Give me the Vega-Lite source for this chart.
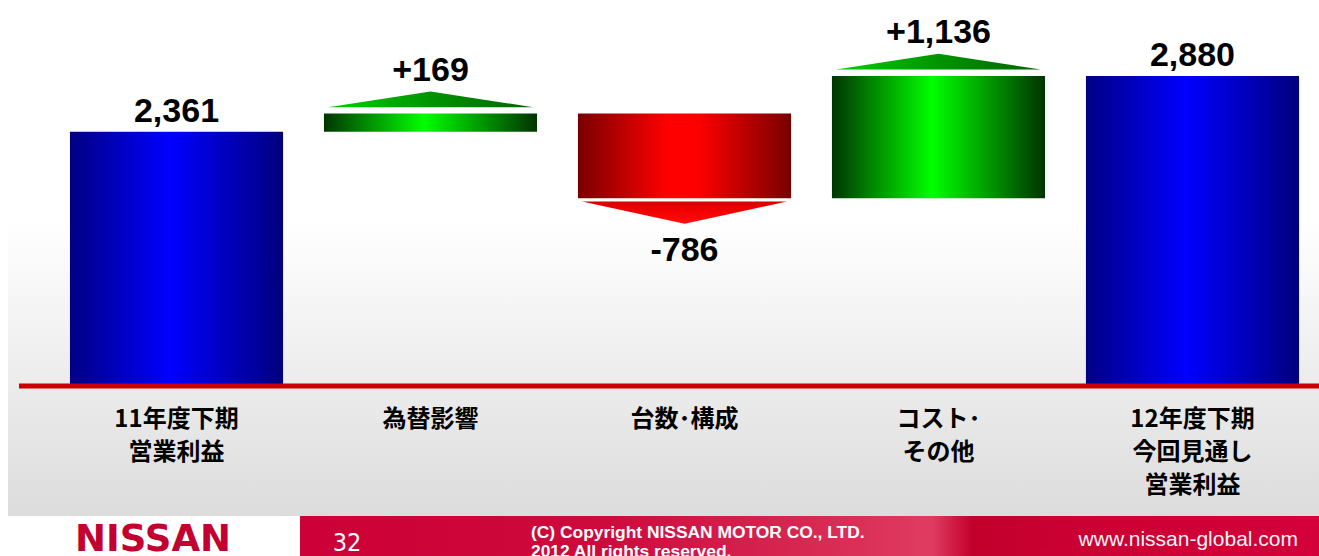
{
  "$schema": "https://vega.github.io/schema/vega-lite/v6.json",
  "width": 1319,
  "height": 556,
  "padding": 0,
  "autosize": {"type": "none"},
  "background": "#ffffff",
  "config": {"view": {"stroke": null}, "axis": {"disable": true}},
  "data": {
    "values": [
      {"step": "11年度下期 営業利益", "label": "11年度下期\n営業利益", "kind": "total", "start": 0, "end": 2361, "text": "2,361"},
      {"step": "為替影響", "label": "為替影響", "kind": "up", "start": 2361, "end": 2530, "text": "+169"},
      {"step": "台数・構成", "label": "台数･構成", "kind": "down", "start": 2530, "end": 1744, "text": "-786"},
      {"step": "コスト・その他", "label": "コスト･\nその他", "kind": "up", "start": 1744, "end": 2880, "text": "+1,136"},
      {"step": "12年度下期 今回見通し 営業利益", "label": "12年度下期\n今回見通し\n営業利益", "kind": "total", "start": 0, "end": 2880, "text": "2,880"}
    ]
  },
  "resolve": {"scale": {"x": "independent"}},
  "layer": [
    {
      "data": {"values": [{"deco": "background"}]},
      "mark": {"type": "rect", "fill": {"gradient": "linear", "x1": 0, "y1": 0, "x2": 0, "y2": 1, "stops": [{"offset": 0, "color": "#ffffff"}, {"offset": 0.43, "color": "#ffffff"}, {"offset": 1, "color": "#dcdcdc"}]}},
      "encoding": {
        "x": {"datum": 8, "type": "quantitative", "scale": {"domain": [0, 1319], "nice": false, "zero": false}, "axis": null},
        "x2": {"datum": 1319},
        "y": {"datum": 3585, "type": "quantitative", "scale": {"domain": [-1579, 3585], "nice": false, "zero": false}, "axis": null},
        "y2": {"datum": -1207}
      }
    },
    {
      "layer": [
        {
          "transform": [{"filter": "datum.kind === 'total'"}],
          "mark": {"type": "bar", "fill": {"gradient": "linear", "x1": 0, "y1": 0, "x2": 1, "y2": 0, "stops": [{"offset": 0, "color": "#000083"}, {"offset": 0.47, "color": "#0000ff"}, {"offset": 1, "color": "#00007e"}]}},
          "encoding": {
            "x": {"field": "step", "type": "nominal", "axis": null, "scale": {"type": "band", "domain": ["11年度下期 営業利益", "為替影響", "台数・構成", "コスト・その他", "12年度下期 今回見通し 営業利益"], "paddingInner": 0.161, "paddingOuter": 0.177, "align": 0.778}},
            "y": {"field": "start", "type": "quantitative", "axis": null, "scale": {"domain": [-1579, 3585], "nice": false, "zero": false}},
            "y2": {"field": "end"}
          }
        },
        {
          "transform": [{"filter": "datum.kind === 'up'"}],
          "mark": {"type": "bar", "fill": {"gradient": "linear", "x1": 0, "y1": 0, "x2": 1, "y2": 0, "stops": [{"offset": 0, "color": "#003600"}, {"offset": 0.47, "color": "#00ff00"}, {"offset": 1, "color": "#003300"}]}},
          "encoding": {
            "x": {"field": "step", "type": "nominal", "axis": null, "scale": {"type": "band", "domain": ["11年度下期 営業利益", "為替影響", "台数・構成", "コスト・その他", "12年度下期 今回見通し 営業利益"], "paddingInner": 0.161, "paddingOuter": 0.177, "align": 0.778}},
            "y": {"field": "start", "type": "quantitative", "axis": null, "scale": {"domain": [-1579, 3585], "nice": false, "zero": false}},
            "y2": {"field": "end"}
          }
        },
        {
          "transform": [{"filter": "datum.kind === 'down'"}],
          "mark": {"type": "bar", "fill": {"gradient": "linear", "x1": 0, "y1": 0, "x2": 1, "y2": 0, "stops": [{"offset": 0, "color": "#780000"}, {"offset": 0.42, "color": "#ff0000"}, {"offset": 0.56, "color": "#ff0000"}, {"offset": 1, "color": "#780000"}]}},
          "encoding": {
            "x": {"field": "step", "type": "nominal", "axis": null, "scale": {"type": "band", "domain": ["11年度下期 営業利益", "為替影響", "台数・構成", "コスト・その他", "12年度下期 今回見通し 営業利益"], "paddingInner": 0.161, "paddingOuter": 0.177, "align": 0.778}},
            "y": {"field": "start", "type": "quantitative", "axis": null, "scale": {"domain": [-1579, 3585], "nice": false, "zero": false}},
            "y2": {"field": "end"}
          }
        },
        {
          "transform": [{"filter": "datum.kind === 'up'"}],
          "mark": {"type": "point", "shape": "M-1,-0.063L0,-0.215L1,-0.063Z", "size": 42025, "filled": true, "opacity": 1, "strokeWidth": 0, "fill": {"gradient": "linear", "x1": 0, "y1": 0, "x2": 1, "y2": 0, "stops": [{"offset": 0, "color": "#00d000"}, {"offset": 0.5, "color": "#009400"}, {"offset": 1, "color": "#006400"}]}},
          "encoding": {
            "x": {"field": "step", "type": "nominal", "axis": null, "scale": {"type": "band", "domain": ["11年度下期 営業利益", "為替影響", "台数・構成", "コスト・その他", "12年度下期 今回見通し 営業利益"], "paddingInner": 0.161, "paddingOuter": 0.177, "align": 0.778}},
            "y": {"field": "end", "type": "quantitative", "axis": null, "scale": {"domain": [-1579, 3585], "nice": false, "zero": false}}
          }
        },
        {
          "transform": [{"filter": "datum.kind === 'down'"}],
          "mark": {"type": "point", "shape": "M-1,0.032L0,0.25L1,0.032Z", "size": 42025, "filled": true, "opacity": 1, "strokeWidth": 0, "fill": {"gradient": "linear", "x1": 0, "y1": 0, "x2": 0, "y2": 1, "stops": [{"offset": 0, "color": "#d80000"}, {"offset": 0.45, "color": "#f40000"}, {"offset": 1, "color": "#ff1010"}]}},
          "encoding": {
            "x": {"field": "step", "type": "nominal", "axis": null, "scale": {"type": "band", "domain": ["11年度下期 営業利益", "為替影響", "台数・構成", "コスト・その他", "12年度下期 今回見通し 営業利益"], "paddingInner": 0.161, "paddingOuter": 0.177, "align": 0.778}},
            "y": {"field": "end", "type": "quantitative", "axis": null, "scale": {"domain": [-1579, 3585], "nice": false, "zero": false}}
          }
        },
        {
          "transform": [{"filter": "datum.kind === 'total'"}],
          "mark": {"type": "text", "font": "Liberation Sans", "fontWeight": "bold", "fontSize": 34, "baseline": "alphabetic", "align": "center", "dy": -10, "color": "#000000"},
          "encoding": {
            "x": {"field": "step", "type": "nominal", "axis": null, "scale": {"type": "band", "domain": ["11年度下期 営業利益", "為替影響", "台数・構成", "コスト・その他", "12年度下期 今回見通し 営業利益"], "paddingInner": 0.161, "paddingOuter": 0.177, "align": 0.778}},
            "y": {"field": "end", "type": "quantitative", "axis": null, "scale": {"domain": [-1579, 3585], "nice": false, "zero": false}},
            "text": {"field": "text", "type": "nominal"}
          }
        },
        {
          "transform": [{"filter": "datum.kind === 'up'"}],
          "mark": {"type": "text", "font": "Liberation Sans", "fontWeight": "bold", "fontSize": 34, "baseline": "alphabetic", "align": "center", "dy": -33, "color": "#000000"},
          "encoding": {
            "x": {"field": "step", "type": "nominal", "axis": null, "scale": {"type": "band", "domain": ["11年度下期 営業利益", "為替影響", "台数・構成", "コスト・その他", "12年度下期 今回見通し 営業利益"], "paddingInner": 0.161, "paddingOuter": 0.177, "align": 0.778}},
            "y": {"field": "end", "type": "quantitative", "axis": null, "scale": {"domain": [-1579, 3585], "nice": false, "zero": false}},
            "text": {"field": "text", "type": "nominal"}
          }
        },
        {
          "transform": [{"filter": "datum.kind === 'down'"}],
          "mark": {"type": "text", "font": "Liberation Sans", "fontWeight": "bold", "fontSize": 34, "baseline": "alphabetic", "align": "center", "dy": 63, "color": "#000000"},
          "encoding": {
            "x": {"field": "step", "type": "nominal", "axis": null, "scale": {"type": "band", "domain": ["11年度下期 営業利益", "為替影響", "台数・構成", "コスト・その他", "12年度下期 今回見通し 営業利益"], "paddingInner": 0.161, "paddingOuter": 0.177, "align": 0.778}},
            "y": {"field": "end", "type": "quantitative", "axis": null, "scale": {"domain": [-1579, 3585], "nice": false, "zero": false}},
            "text": {"field": "text", "type": "nominal"}
          }
        },
        {
          "mark": {"type": "text", "font": "Noto Sans CJK JP", "fontWeight": "bold", "fontSize": 24, "lineBreak": "\n", "lineHeight": 33, "baseline": "alphabetic", "align": "center", "dy": 41, "color": "#000000"},
          "encoding": {
            "x": {"field": "step", "type": "nominal", "axis": null, "scale": {"type": "band", "domain": ["11年度下期 営業利益", "為替影響", "台数・構成", "コスト・その他", "12年度下期 今回見通し 営業利益"], "paddingInner": 0.161, "paddingOuter": 0.177, "align": 0.778}},
            "y": {"datum": 0, "type": "quantitative", "axis": null, "scale": {"domain": [-1579, 3585], "nice": false, "zero": false}},
            "text": {"field": "label", "type": "nominal"}
          }
        }
      ]
    },
    {
      "data": {"values": [{"deco": "footer"}]},
      "encoding": {
        "x": {"type": "quantitative", "axis": null, "scale": {"domain": [0, 1319], "nice": false, "zero": false}},
        "y": {"type": "quantitative", "axis": null, "scale": {"domain": [-1579, 3585], "nice": false, "zero": false}}
      },
      "layer": [
        {
          "mark": {"type": "rule", "color": "#cc0000", "strokeWidth": 5},
          "encoding": {
            "x": {"datum": 19, "type": "quantitative"},
            "x2": {"datum": 1319},
            "y": {"datum": 0, "type": "quantitative"}
          }
        },
        {
          "mark": {"type": "rect", "fill": {"gradient": "linear", "x1": 0, "y1": 0, "x2": 1, "y2": 0, "stops": [{"offset": 0, "color": "#cc0036"}, {"offset": 0.3, "color": "#ce0a3c"}, {"offset": 0.55, "color": "#da3058"}, {"offset": 0.62, "color": "#e03c62"}, {"offset": 0.66, "color": "#c2002c"}, {"offset": 0.75, "color": "#ca0032"}, {"offset": 1, "color": "#d4003a"}]}},
          "encoding": {
            "x": {"datum": 300, "type": "quantitative"},
            "x2": {"datum": 1319},
            "y": {"datum": -1207, "type": "quantitative"},
            "y2": {"datum": -1600}
          }
        },
        {
          "mark": {"type": "text", "text": "NISSAN", "font": "DejaVu Sans", "fontWeight": "bold", "fontSize": 37, "align": "center", "baseline": "alphabetic", "color": "#c3002f"},
          "encoding": {
            "x": {"datum": 153, "type": "quantitative"},
            "y": {"datum": -1533, "type": "quantitative"}
          }
        },
        {
          "mark": {"type": "text", "text": "32", "font": "Liberation Sans Narrow, DejaVu Sans Condensed, sans-serif", "fontSize": 25, "align": "center", "baseline": "alphabetic", "color": "#ffffff"},
          "encoding": {
            "x": {"datum": 347, "type": "quantitative"},
            "y": {"datum": -1532, "type": "quantitative"}
          }
        },
        {
          "mark": {"type": "text", "text": "(C) Copyright NISSAN MOTOR CO., LTD.\n2012 All rights reserved.", "lineBreak": "\n", "lineHeight": 19, "font": "Liberation Sans", "fontWeight": "bold", "fontSize": 17.4, "align": "left", "baseline": "alphabetic", "color": "#ffffff"},
          "encoding": {
            "x": {"datum": 531, "type": "quantitative"},
            "y": {"datum": -1412, "type": "quantitative"}
          }
        },
        {
          "mark": {"type": "text", "text": "www.nissan-global.com", "font": "Liberation Sans", "fontSize": 21, "align": "right", "baseline": "alphabetic", "color": "#f6f6f6"},
          "encoding": {
            "x": {"datum": 1298, "type": "quantitative"},
            "y": {"datum": -1486, "type": "quantitative"}
          }
        }
      ]
    }
  ]
}
